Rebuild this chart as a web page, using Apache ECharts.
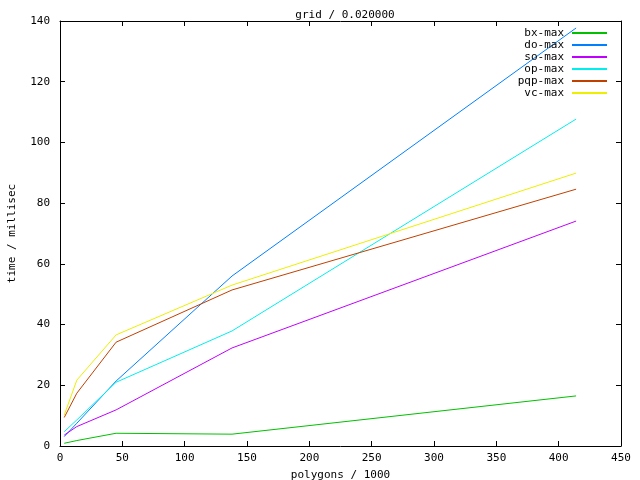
<!DOCTYPE html>
<html>
<head>
<meta charset="utf-8">
<script src="https://cdn.jsdelivr.net/npm/echarts@6/dist/echarts.min.js"></script>
<style>
    html, body { margin: 0; padding: 0; background: #fff; }
    #chart { width: 640px; height: 480px; }
</style>
</head>
<body>
<div id="chart"></div>
<script>
    // polygons / 1000
    const polygons = [3.4, 13.5, 45, 138, 414];
    // time / millisec
    const bxMax  = [0.9, 1.8, 4.2, 3.9, 16.5];
    const doMax  = [3.1, 7.5, 21.4, 56.0, 137.7];
    const soMax  = [3.6, 6.4, 11.9, 32.3, 74.1];
    const opMax  = [4.7, 8.6, 21.0, 37.9, 107.7];
    const pqpMax = [9.4, 17.4, 34.2, 51.4, 84.6];
    const vcMax  = [10.2, 21.7, 36.6, 53.0, 89.9];

    const names  = ['bx-max', 'do-max', 'so-max', 'op-max', 'pqp-max', 'vc-max'];
    const colors = ['#00c000', '#0080ff', '#c000ff', '#00eeee', '#c04000', '#eeee00'];
    const values = [bxMax, doMax, soMax, opMax, pqpMax, vcMax];

    const mono = 'DejaVu Sans Mono';
    const chart = echarts.init(document.getElementById('chart'));

    function pairs(ys) {
        return polygons.map((x, i) => [x, ys[i]]);
    }

    const xBase = {
        type: 'value', min: 0, max: 450, interval: 50,
        splitLine: { show: false },
        axisLine: { show: true, onZero: false, lineStyle: { color: '#000', width: 1 } },
        axisTick: { show: true, inside: true, length: 5, lineStyle: { color: '#000' } }
    };
    const yBase = {
        type: 'value', min: 0, max: 140, interval: 20,
        splitLine: { show: false },
        axisLine: { show: true, onZero: false, lineStyle: { color: '#000', width: 1 } },
        axisTick: { show: true, inside: true, length: 5, lineStyle: { color: '#000' } }
    };

    chart.setOption({
        animation: false,
        color: colors,
        title: {
            text: 'grid / 0.020000',
            left: 340, top: 5, textAlign: 'center',
            textStyle: { fontFamily: mono, fontSize: 11, fontWeight: 'normal', color: '#000' }
        },
        legend: {
            orient: 'vertical',
            right: 33, top: 27,
            padding: 0,
            align: 'right',
            itemGap: 0,
            itemWidth: 35, itemHeight: 2,
            icon: 'rect',
            data: names,
            formatter: n => n.padStart(7, '\u00a0'),
            textStyle: { fontFamily: mono, fontSize: 11, color: '#000', lineHeight: 12, padding: [0, 3, 0, 0] }
        },
        grid: { left: 60, right: 19, top: 21, bottom: 34, outerBoundsMode: 'none' },
        xAxis: [
            Object.assign({}, xBase, {
                position: 'bottom',
                name: 'polygons / 1000', nameLocation: 'middle', nameGap: 24,
                nameTextStyle: { fontFamily: mono, fontSize: 11, color: '#000' },
                axisLabel: { margin: 7, fontFamily: mono, fontSize: 11, color: '#000' }
            }),
            Object.assign({}, xBase, { position: 'top', axisLabel: { show: false } })
        ],
        yAxis: [
            Object.assign({}, yBase, {
                position: 'left',
                name: 'time / millisec', nameLocation: 'middle', nameGap: 42,
                nameTextStyle: { fontFamily: mono, fontSize: 11, color: '#000' },
                axisLabel: { margin: 10, fontFamily: mono, fontSize: 11, color: '#000' }
            }),
            Object.assign({}, yBase, { position: 'right', axisLabel: { show: false } })
        ],
        series: names.map((n, i) => ({
            name: n,
            type: 'line',
            xAxisIndex: 0, yAxisIndex: 0,
            data: pairs(values[i]),
            showSymbol: false,
            symbol: 'none',
            lineStyle: { width: 1, color: colors[i] },
            itemStyle: { color: colors[i] }
        }))
    });
</script>
</body>
</html>
